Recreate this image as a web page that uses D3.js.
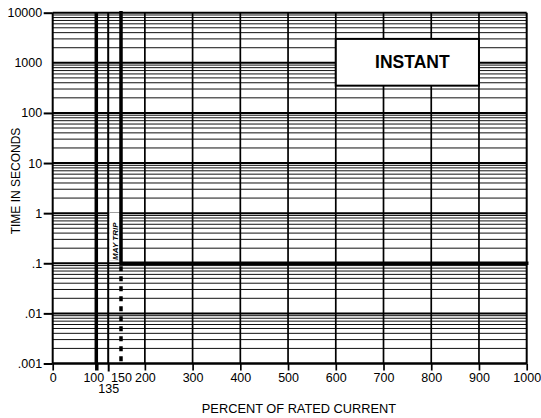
<!DOCTYPE html>
<html><head><meta charset="utf-8">
<script src="https://cdn.jsdelivr.net/npm/d3@7"></script>
<style>
body{margin:0;background:#fff}
svg{display:block}
text{font-family:"Liberation Sans",Arial,Helvetica,sans-serif;fill:#000}
</style>
</head><body><svg id="c" width="541" height="418"></svg>
<script>
// ---- data ----
const percentTicks = [0, 100, 150, 200, 300, 400, 500, 600, 700, 800, 900, 1000];
const percentTicksLow = [135];
const gridPercents = [200, 300, 400, 500, 600, 700, 800, 900];
const ratedLines = [100, 135];
const timeTicks = [0.001, 0.01, 0.1, 1, 10, 100, 1000, 10000];
const timeLabels = [".001", ".01", ".1", "1", "10", "100", "1000", "10000"];
const tripCurrent = [150, 150, 1000];
const tripTime = [10000, 0.1, 0.1];
const mayTripCurrent = [150, 150];
const mayTripTime = [0.1, 0.001];
const instantCurrent = [600, 900];
const instantTime = [3000, 350];
const mayTripBoxCurrent = [135, 150];
const mayTripBoxTime = [1, 0.1];

// ---- layout ----
const svg = d3.select("#c");
const L = 52.7, R = 526.7, T = 12.7, B = 363.5;
const x = d3.scaleLinear().domain([0, 100, 135, 150, 1000]).range([L, 96.3, 108.2, 121, R]);
const y = d3.scaleLog().domain([0.001, 10000]).range([B, T]);

const g = svg.append("g");

// minor horizontal grid
const minors = [];
for (let e = -3; e < 4; e++) for (let m = 2; m <= 9; m++) minors.push(m * Math.pow(10, e));
g.selectAll(".minor").data(minors).enter().append("line")
  .attr("x1", L).attr("x2", R).attr("y1", d => y(d)).attr("y2", d => y(d))
  .attr("stroke", "#111").attr("stroke-width", 1);
// decade lines
g.selectAll(".major").data(timeTicks).enter().append("line")
  .attr("x1", L).attr("x2", R).attr("y1", d => y(d)).attr("y2", d => y(d))
  .attr("stroke", "#000").attr("stroke-width", 2);

// vertical grid
g.selectAll(".vg").data(gridPercents).enter().append("line")
  .attr("x1", d => x(d)).attr("x2", d => x(d)).attr("y1", T).attr("y2", B)
  .attr("stroke", "#000").attr("stroke-width", 1.7);
g.selectAll(".rl").data(ratedLines).enter().append("line")
  .attr("x1", d => x(d)).attr("x2", d => x(d)).attr("y1", T).attr("y2", B)
  .attr("stroke", "#000").attr("stroke-width", (d, i) => i === 0 ? 3.5 : 2);

// frame
g.append("line").attr("x1", R).attr("x2", R).attr("y1", T).attr("y2", B).attr("stroke", "#000").attr("stroke-width", 2);
g.append("line").attr("x1", L).attr("x2", L).attr("y1", T).attr("y2", B).attr("stroke", "#000").attr("stroke-width", 2);

// MAY TRIP box
g.append("rect")
  .attr("x", x(mayTripBoxCurrent[0]) + 1.2)
  .attr("y", y(mayTripBoxTime[0]) - 0.5)
  .attr("width", x(mayTripBoxCurrent[1]) - x(mayTripBoxCurrent[0]) - 2.5)
  .attr("height", y(mayTripBoxTime[1]) - y(mayTripBoxTime[0]) - 2)
  .attr("fill", "#fff").attr("stroke", "#bbb").attr("stroke-width", 0.5);
{
  const cx = (x(mayTripBoxCurrent[0]) + x(mayTripBoxCurrent[1])) / 2 + 0.5;
  const cy = (y(mayTripBoxTime[0]) + y(mayTripBoxTime[1])) / 2 + 3;
  g.append("text").attr("transform", `translate(${cx + 2.8},${cy}) rotate(-90)`)
    .attr("text-anchor", "middle").attr("font-size", 8).attr("font-weight", "bold")
    .attr("font-style", "italic").text("MAY TRIP");
}

// trip curve
const line = d3.line().x(d => x(d[0])).y(d => y(d[1]));
g.append("path").datum(tripCurrent.map((c, i) => [c, tripTime[i]]))
  .attr("d", line).attr("fill", "none").attr("stroke", "#000").attr("stroke-width", 3.5)
  .attr("stroke-linejoin", "miter").attr("stroke-linecap", "square");
g.append("path").datum(mayTripCurrent.map((c, i) => [c, mayTripTime[i]]))
  .attr("d", line).attr("fill", "none").attr("stroke", "#000").attr("stroke-width", 3.5)
  .attr("stroke-dasharray", "5,5").attr("stroke-dashoffset", -3);

// INSTANT box
g.append("rect")
  .attr("x", x(instantCurrent[0])).attr("y", y(instantTime[0]))
  .attr("width", x(instantCurrent[1]) - x(instantCurrent[0]))
  .attr("height", y(instantTime[1]) - y(instantTime[0]))
  .attr("fill", "#fff").attr("stroke", "#000").attr("stroke-width", 2);
g.append("text")
  .attr("x", (x(instantCurrent[0]) + x(instantCurrent[1])) / 2 + 5)
  .attr("y", (y(instantTime[0]) + y(instantTime[1])) / 2 + 6)
  .attr("text-anchor", "middle").attr("font-size", 17.5).attr("font-weight", "bold").text("INSTANT");

// axes
const ya = svg.append("g").attr("transform", `translate(${L},0)`)
  .call(d3.axisLeft(y).tickValues(timeTicks).tickFormat((d, i) => timeLabels[i]).tickSize(9).tickPadding(1.5));
ya.select(".domain").remove();
ya.selectAll(".tick line").attr("stroke-width", 2).filter(d => d === 1000).remove();
ya.selectAll("text").attr("font-size", 12.5).attr("font-family", null);

const xa = svg.append("g").attr("transform", `translate(0,${B})`)
  .call(d3.axisBottom(x).tickValues(percentTicks).tickFormat(d3.format("d")).tickSize(7).tickPadding(3));
xa.select(".domain").attr("d", `M${L},0H${R}`).attr("stroke-width", 2);
xa.selectAll(".tick line").attr("stroke-width", d => d === 100 ? 3.5 : 1.7).filter(d => d === 150).remove();
xa.selectAll("text").attr("font-size", 12.5).attr("font-family", null)
  .attr("dx", d => d === 100 ? -3 : 0);

const xa2 = svg.append("g").attr("transform", `translate(0,${B})`)
  .call(d3.axisBottom(x).tickValues(percentTicksLow).tickFormat(d3.format("d")).tickSize(8).tickPadding(13));
xa2.select(".domain").remove();
xa2.selectAll(".tick line").attr("stroke-width", 2);
xa2.selectAll("text").attr("font-size", 12.5).attr("font-family", null);

// titles
svg.append("text").attr("x", 299).attr("y", 413).attr("text-anchor", "middle")
  .attr("font-size", 12.8).text("PERCENT OF RATED CURRENT");
svg.append("text").attr("transform", "translate(19.5,181) rotate(-90)").attr("text-anchor", "middle")
  .attr("font-size", 12).text("TIME IN SECONDS");
</script>
</body></html>
